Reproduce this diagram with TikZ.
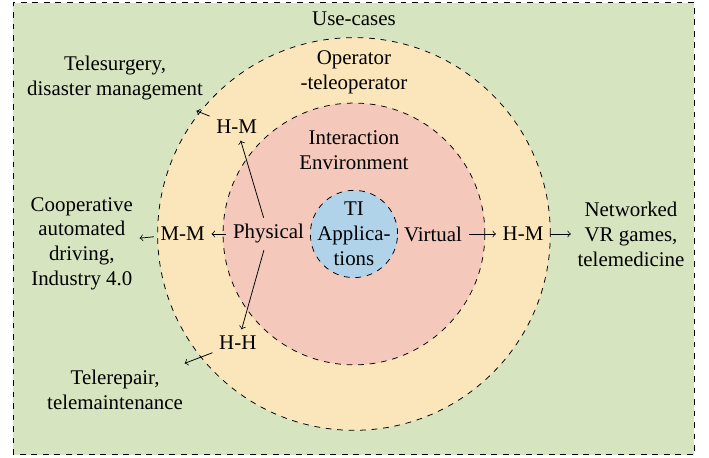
\documentclass[tikz,border=0pt]{standalone}
\usepackage{fontspec}
\setmainfont{Liberation Serif}
\usetikzlibrary{positioning}
\tikzset{zone/.style = {draw, dashed}}
\tikzset{lbl/.style = {align=center}}
\definecolor{mgreen}{RGB}{214, 228, 192}
\definecolor{myellow}{RGB}{251, 229, 187}
\definecolor{mpink}{RGB}{244, 200, 186}
\definecolor{mblue}{RGB}{176, 211, 234}

\begin{document}
\begin{tikzpicture}[font=\fontsize{10.9}{13}\selectfont]
    \useasboundingbox (-6.49, -4.09) rectangle (6.51, 4.29);

    \draw [zone, fill=mgreen] (-6.25, -4.05) rectangle (6.24, 4.24);
    \draw [zone, fill=myellow] (0, 0) circle [radius=3.6];
    \draw [zone, fill=mpink] (0, 0) circle [radius=2.4];
    \draw [zone, fill=mblue] (0, 0) circle [radius=0.8];

    \node (usecases) at (0, 3.94) {Use-cases};
    \node (operator) [lbl] at (0, 2.97) {Operator\\-teleoperator};
    \node (interaction) [lbl] at (0, 1.54) {Interaction\\Environment};
    \node (ti) [lbl] at (0, 0) {TI\\Applica-\\tions};

    \node (physical) [left=0 of ti.west] {Physical};
    \node (virtual) [right=0 of ti.east] {Virtual};

    \node (mm) at (-3.14, 0) {M-M};
    \node (hmtop) at (-2.15, 1.96) {H-M};
    \node (hh) at (-2.13, -2.0) {H-H};
    \node (hmright) at (3.10, 0) {H-M};

    \node (telesurgery) [lbl] at (-4.38, 2.86) {Telesurgery,\\disaster management};
    \node (cooperative) [lbl] at (-4.99, -0.18) {Cooperative\\automated\\driving,\\Industry 4.0};
    \node (telerepair) [lbl] at (-4.38, -2.86) {Telerepair,\\telemaintenance};
    \node (networked) [lbl] at (5.08, 0) {Networked\\VR games,\\telemedicine};

    \draw [->] (physical) -- (hmtop);
    \draw [->] (physical) -- (mm);
    \draw [->] (physical) -- (hh);
    \draw [->] (virtual) -- (hmright);

    \draw [->, shorten >=0.2cm] (hmtop) -- (telesurgery);
    \draw [->] (mm) -- (cooperative);
    \draw [->] (hh) -- (telerepair);
    \draw [->] (hmright) -- (networked);
\end{tikzpicture}
\end{document}
